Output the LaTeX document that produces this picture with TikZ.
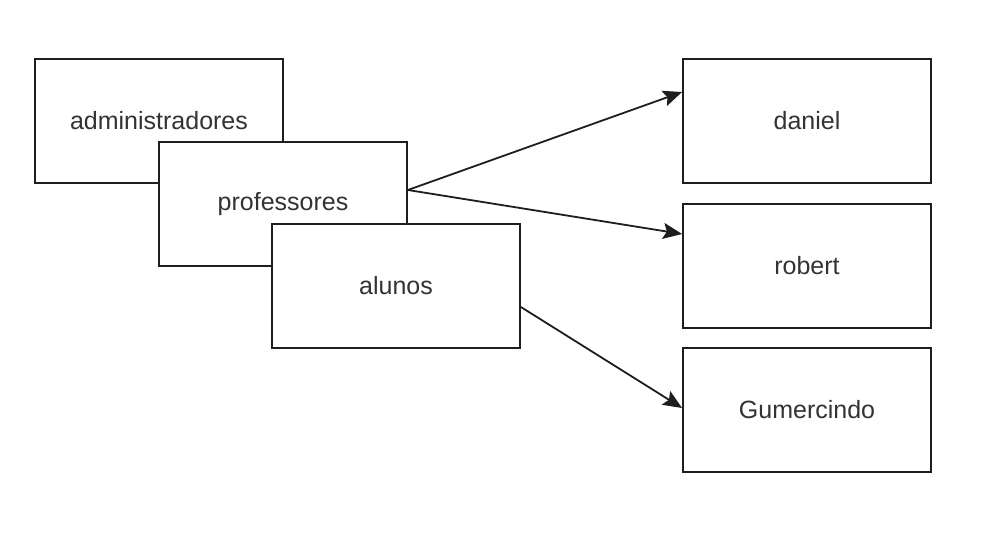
\documentclass[tikz,border=0pt]{standalone}
\usepackage{fontspec}
\setmainfont{Liberation Sans}
\usetikzlibrary{arrows.meta}
\definecolor{edge}{HTML}{1E1E1E}
\definecolor{txt}{HTML}{333333}
\tikzset{
  box/.style={draw=edge, line width=1.8pt, fill=white, minimum width=248pt, minimum height=124pt,
    inner sep=0pt, text=txt, font=\fontsize{25}{30}\selectfont},
  conn/.style={draw=edge, line width=1.8pt, -{Stealth[length=19pt,width=16pt,inset=3.5pt]}}
}
\begin{document}
\begin{tikzpicture}[x=1pt,y=-1pt]
\useasboundingbox (0,0) rectangle (984,535);
\node[box] (admin) at (159,121) {administradores};
\node[box] (prof) at (283,204) {professores};
\node[box] (alunos) at (396,286) {alunos};
\node[box] (daniel) at (807,121) {daniel};
\node[box] (robert) at (807,266) {robert};
\node[box] (gum) at (807,410) {Gumercindo};
\draw[conn] ([yshift=14pt]prof.east) -- ([yshift=29pt]daniel.west);
\draw[conn] ([yshift=14pt]prof.east) -- ([yshift=32pt]robert.west);
\draw[conn] ([yshift=-21pt]alunos.east) -- ([yshift=2pt]gum.west);
\end{tikzpicture}
\end{document}
